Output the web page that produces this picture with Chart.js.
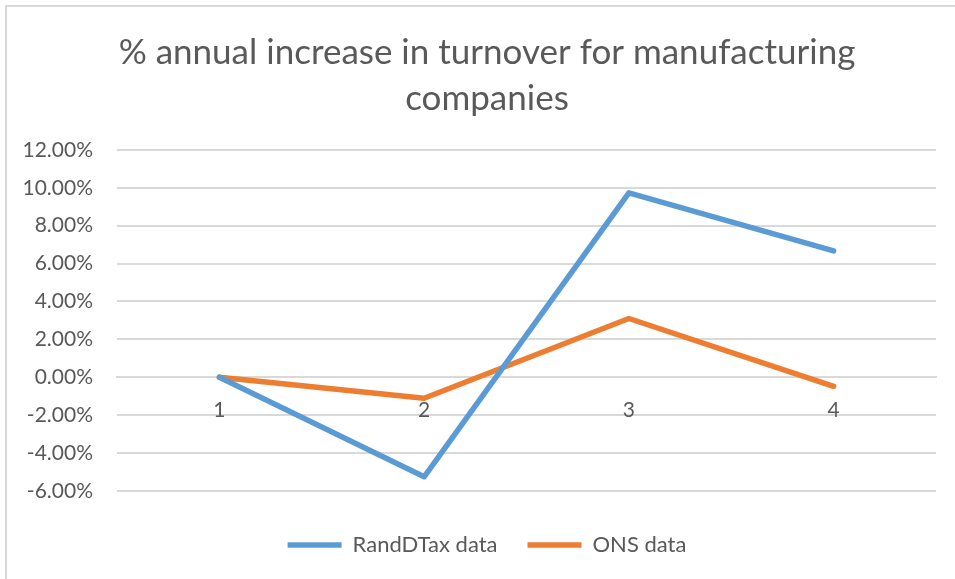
<!DOCTYPE html>
<html>
<head>
<meta charset="utf-8">
<script src="https://cdn.jsdelivr.net/npm/chart.js@4"></script>
<style>
  html, body { margin: 0; padding: 0; background: #ffffff; }
  #wrap { position: relative; width: 955px; height: 579px; overflow: hidden; }
  #frame { position: absolute; left: 5px; top: 5px; width: 960px; height: 590px;
           border-left: 2px solid #D9D9D9; border-top: 2px solid #D9D9D9; box-sizing: border-box; }
  canvas { position: absolute; left: 0; top: 0; }
</style>
</head>
<body>
<div id="wrap">
  <div id="frame"></div>
  <canvas id="chart" width="955" height="579"></canvas>
</div>
<script>
// Year index along the x axis
const categories = ['1', '2', '3', '4'];

// Annual turnover change, in percent
const randDTaxData = [0, -5.26, 9.74, 6.67];
const onsData = [0, -1.11, 3.10, -0.48];

// Value axis range and step, in percent
const yMin = -6;
const yMax = 12;
const yStep = 2;

const textColor = '#595959';
const gridColor = '#D9D9D9';
const fontFamily = 'Lato, "Open Sans", sans-serif';

new Chart(document.getElementById('chart'), {
  type: 'line',
  data: {
    labels: categories,
    datasets: [
      {
        label: 'RandDTax data',
        data: randDTaxData,
        borderColor: '#5B9BD5',
        backgroundColor: '#5B9BD5',
        borderWidth: 5.5,
        borderCapStyle: 'round',
        borderJoinStyle: 'round',
        pointRadius: 0,
        pointHoverRadius: 0,
        pointStyle: 'line',
        tension: 0
      },
      {
        label: 'ONS data',
        data: onsData,
        borderColor: '#ED7D31',
        backgroundColor: '#ED7D31',
        borderWidth: 5.5,
        borderCapStyle: 'round',
        borderJoinStyle: 'round',
        pointRadius: 0,
        pointHoverRadius: 0,
        pointStyle: 'line',
        tension: 0
      }
    ]
  },
  options: {
    responsive: false,
    animation: false,
    layout: { padding: { left: 19, right: 0, top: 0, bottom: 13 } },
    plugins: {
      title: {
        display: true,
        text: ['% annual increase in turnover for manufacturing', 'companies'],
        color: textColor,
        font: { family: fontFamily, size: 35, weight: 'normal', lineHeight: 1.3 },
        padding: { top: 30, bottom: 29 }
      },
      legend: {
        position: 'bottom',
        // empty title keeps a gap between the plot and the legend row
        title: { display: true, text: '', font: { size: 1 }, padding: { top: 12, bottom: 0 } },
        labels: {
          color: textColor,
          font: { family: fontFamily, size: 22 },
          usePointStyle: true,
          pointStyleWidth: 54,
          boxHeight: 5,
          padding: 30
        }
      },
      tooltip: { enabled: false }
    },
    scales: {
      x: {
        type: 'category',
        position: { y: 0 },
        offset: true,
        grid: { display: false, drawTicks: false },
        border: { display: true, color: gridColor, width: 2 },
        ticks: { color: textColor, font: { family: fontFamily, size: 21 }, padding: 20 }
      },
      y: {
        min: yMin,
        max: yMax,
        grid: { color: gridColor, lineWidth: 2, drawTicks: false },
        border: { display: false },
        ticks: {
          stepSize: yStep,
          color: textColor,
          font: { family: fontFamily, size: 21 },
          padding: 24,
          callback: v => v.toFixed(2) + '%'
        },
        afterFit: scale => { scale.width = 98; }
      },
      // blank right-hand margin beside the plot
      yRight: {
        position: 'right',
        min: yMin,
        max: yMax,
        grid: { display: false, drawTicks: false },
        border: { display: false },
        ticks: { display: false },
        afterFit: scale => { scale.width = 19; }
      }
    }
  }
});
</script>
</body>
</html>
